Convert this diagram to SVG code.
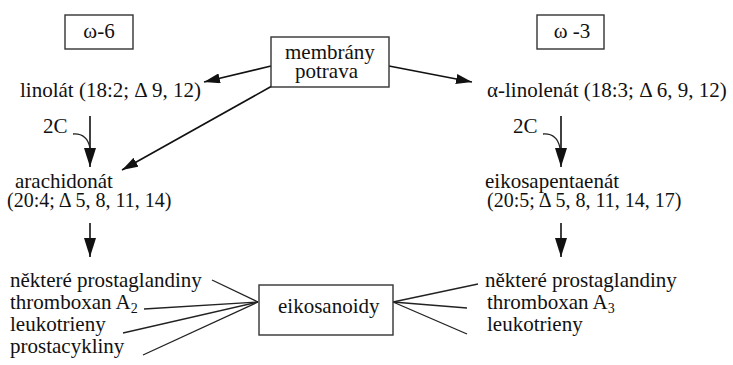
<svg xmlns="http://www.w3.org/2000/svg" width="733" height="365" viewBox="0 0 733 365">
<style>
text{font-family:"Liberation Serif","Times New Roman",serif;fill:#111;}
.t{font-size:21px;}
.s{font-size:20px;}
.box{fill:#fff;stroke:#333;stroke-width:1.4;}
.ln{stroke:#111;stroke-width:1.6;fill:none;}
.thin{stroke:#222;stroke-width:1.3;fill:none;}
</style>
<defs>
<marker id="ah" markerUnits="userSpaceOnUse" markerWidth="16" markerHeight="10" refX="16" refY="5" orient="auto"><path d="M0,0 L16,5 L0,10 z" fill="#111"/></marker>
<marker id="av" markerUnits="userSpaceOnUse" markerWidth="19" markerHeight="12" refX="19" refY="6" orient="auto"><path d="M0,0 L19,6 L0,12 z" fill="#111"/></marker>
</defs>
<g id="connectors">
<line class="ln" x1="271" y1="66" x2="204" y2="82" marker-end="url(#ah)"/>
<line class="ln" x1="272" y1="86" x2="122" y2="170" marker-end="url(#ah)"/>
<line class="ln" x1="389" y1="66" x2="472" y2="82" marker-end="url(#ah)"/>
<line class="ln" x1="90" y1="116" x2="90" y2="167" marker-end="url(#av)"/>
<path class="thin" d="M73,134 Q87,133 90,148"/>
<line class="ln" x1="561" y1="116" x2="561" y2="167" marker-end="url(#av)"/>
<path class="thin" d="M543,134 Q557,133 560,148"/>
<line class="ln" x1="90" y1="223" x2="90" y2="257" marker-end="url(#av)"/>
<line class="ln" x1="561" y1="223" x2="561" y2="257" marker-end="url(#av)"/>
<line class="thin" x1="212" y1="280" x2="258" y2="302"/>
<line class="thin" x1="144" y1="309" x2="258" y2="302"/>
<line class="thin" x1="123" y1="333" x2="258" y2="302"/>
<line class="thin" x1="143" y1="355" x2="258" y2="302"/>
<line class="thin" x1="393" y1="302" x2="478" y2="284"/>
<line class="thin" x1="393" y1="302" x2="467" y2="308"/>
<line class="thin" x1="393" y1="302" x2="467" y2="334"/>
</g>
<g id="omega6">
<rect class="box" x="65" y="15" width="68" height="34"/>
<text class="t" x="99" y="38" text-anchor="middle">ω-6</text>
</g>
<g id="omega3">
<rect class="box" x="537" y="15" width="67" height="34"/>
<text class="t" x="572" y="38" text-anchor="middle">ω -3</text>
</g>
<g id="membrany">
<rect class="box" x="271" y="37" width="118" height="50"/>
<text class="t" x="285" y="59">membrány</text>
<text class="t" x="295" y="78">potrava</text>
</g>
<g id="linolat">
<text class="t" x="20" y="97">linolát (18:2; Δ 9, 12)</text>
</g>
<g id="alinolenat">
<text class="t" x="487" y="97">α-linolenát (18:3; Δ 6, 9, 12)</text>
</g>
<g id="c2left"><text class="t" x="43" y="133">2C</text></g>
<g id="c2right"><text class="t" x="513" y="133">2C</text></g>
<g id="arachidonat">
<text class="t" x="15" y="188">arachidonát</text>
<text class="s" x="7" y="207">(20:4; Δ 5, 8, 11, 14)</text>
</g>
<g id="eikosapentaenat">
<text class="t" x="485" y="188">eikosapentaenát</text>
<text class="s" x="487" y="207">(20:5; Δ 5, 8, 11, 14, 17)</text>
</g>
<g id="listleft">
<text class="t" x="10" y="287">některé prostaglandiny</text>
<text class="t" x="10" y="309">thromboxan A<tspan font-size="14" dy="4">2</tspan></text>
<text class="t" x="10" y="331">leukotrieny</text>
<text class="t" x="10" y="353">prostacykliny</text>
</g>
<g id="eikosanoidy">
<rect class="box" x="259" y="285" width="134" height="50"/>
<text class="t" x="278" y="313">eikosanoidy</text>
</g>
<g id="listright">
<text class="t" x="485" y="287">některé prostaglandiny</text>
<text class="t" x="487" y="309">thromboxan A<tspan font-size="14" dy="4">3</tspan></text>
<text class="t" x="487" y="331">leukotrieny</text>
</g>
</svg>
